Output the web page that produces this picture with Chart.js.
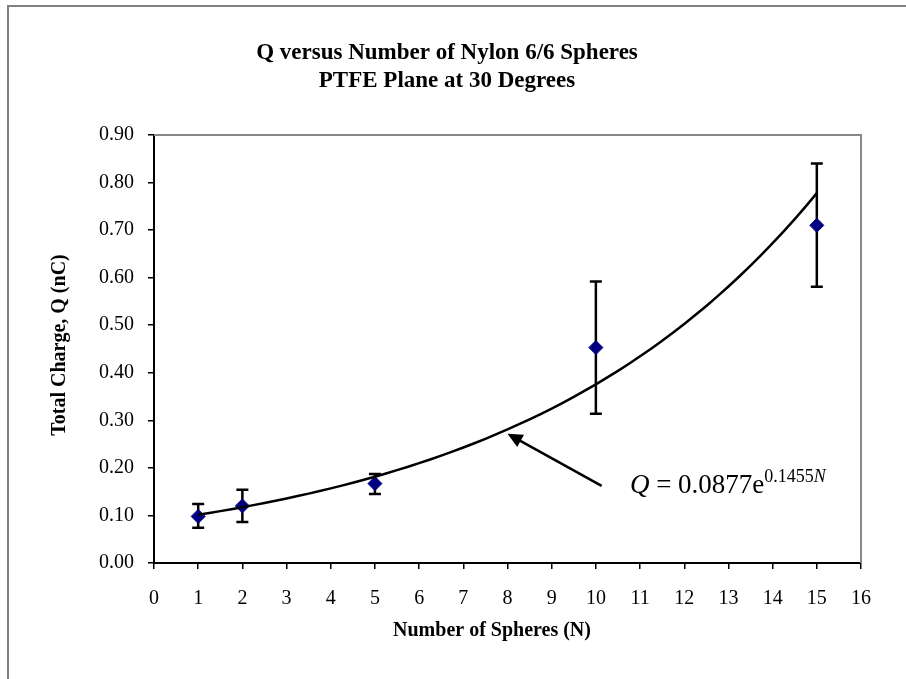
<!DOCTYPE html>
<html>
<head>
<meta charset="utf-8">
<script src="https://cdn.jsdelivr.net/npm/chart.js@4.4.0/dist/chart.umd.min.js"></script>
<style>
  html, body { margin: 0; padding: 0; background: #fff; }
</style>
</head>
<body>
<canvas id="myChart" width="906" height="679"></canvas>
<script>
const spheres = [1, 2, 5, 10, 15];
const charge = [0.098, 0.120, 0.167, 0.453, 0.710];
const errLow = [0.074, 0.086, 0.145, 0.314, 0.581];
const errHigh = [0.124, 0.154, 0.187, 0.592, 0.840];
// fitted trendline shown on the chart: Q = 0.0877 e^(0.1455 N)
const fitA = 0.0877;
const fitB = 0.1455;
const xTicks = [0, 1, 2, 3, 4, 5, 6, 7, 8, 9, 10, 11, 12, 13, 14, 15, 16];
const yTicks = [0, 0.1, 0.2, 0.3, 0.4, 0.5, 0.6, 0.7, 0.8, 0.9];
const titleLines = ['Q versus Number of Nylon 6/6 Spheres', 'PTFE Plane at 30 Degrees'];
const xTitle = 'Number of Spheres (N)';
const yTitle = 'Total Charge, Q (nC)';

const serif = '"Liberation Serif", "Times New Roman", serif';

const trend = [];
for (let n = spheres[0]; n <= spheres[spheres.length - 1] + 1e-9; n += 0.25) {
  trend.push({ x: n, y: fitA * Math.exp(fitB * n) });
}

const frame = {
  id: 'frame',
  beforeDraw(chart) {
    const c = chart.ctx;
    c.save();
    c.fillStyle = '#fff';
    c.fillRect(0, 0, chart.width, chart.height);
    c.strokeStyle = '#808080';
    c.lineWidth = 2;
    c.strokeRect(8, 6, 920, 700);
    // titles
    c.fillStyle = '#000';
    c.textAlign = 'center';
    c.textBaseline = 'middle';
    c.font = 'bold 23px ' + serif;
    c.fillText(titleLines[0], 447, 53);
    c.fillText(titleLines[1], 447, 81);
    c.font = 'bold 20px ' + serif;
    c.fillText(xTitle, 492, 631);
    c.save();
    c.translate(60, 345);
    c.rotate(-Math.PI / 2);
    c.fillText(yTitle, 0, 0);
    c.restore();
    c.restore();
  },
  beforeDatasetsDraw(chart) {
    const c = chart.ctx;
    const a = chart.chartArea;
    const xs = chart.scales.x, ys = chart.scales.y;
    c.save();
    // grey plot frame top & right
    c.strokeStyle = '#888';
    c.lineWidth = 2;
    c.beginPath();
    c.moveTo(a.left, a.top);
    c.lineTo(a.right, a.top);
    c.lineTo(a.right, a.bottom);
    c.stroke();
    // error bars
    c.strokeStyle = '#000';
    c.lineWidth = 2.5;
    spheres.forEach((n, i) => {
      const px = xs.getPixelForValue(n);
      const lo = ys.getPixelForValue(errLow[i]);
      const hi = ys.getPixelForValue(errHigh[i]);
      c.beginPath();
      c.moveTo(px, lo); c.lineTo(px, hi);
      c.moveTo(px - 6, lo); c.lineTo(px + 6, lo);
      c.moveTo(px - 6, hi); c.lineTo(px + 6, hi);
      c.stroke();
    });
    c.restore();
  },
  afterDatasetsDraw(chart) {
    const c = chart.ctx;
    const xs = chart.scales.x, ys = chart.scales.y;
    c.save();
    // arrow pointing at the trendline
    const x0 = xs.getPixelForValue(10.13), y0 = ys.getPixelForValue(0.162);
    const x1 = xs.getPixelForValue(8.0), y1 = ys.getPixelForValue(0.272);
    const ang = Math.atan2(y1 - y0, x1 - x0);
    c.strokeStyle = '#000';
    c.fillStyle = '#000';
    c.lineWidth = 2.5;
    c.beginPath();
    c.moveTo(x0, y0);
    c.lineTo(x1 - 8 * Math.cos(ang), y1 - 8 * Math.sin(ang));
    c.stroke();
    c.beginPath();
    c.moveTo(x1, y1);
    c.lineTo(x1 - 15 * Math.cos(ang) + 7 * Math.sin(ang), y1 - 15 * Math.sin(ang) - 7 * Math.cos(ang));
    c.lineTo(x1 - 15 * Math.cos(ang) - 7 * Math.sin(ang), y1 - 15 * Math.sin(ang) + 7 * Math.cos(ang));
    c.closePath();
    c.fill();
    // equation
    let tx = xs.getPixelForValue(10.77);
    const ty = ys.getPixelForValue(0.147);
    c.textBaseline = 'alphabetic';
    c.textAlign = 'left';
    const parts = [
      { t: 'Q', f: 'italic 27px ' + serif, dy: 0 },
      { t: ' = 0.0877e', f: '27px ' + serif, dy: 0 },
      { t: '0.1455', f: '18px ' + serif, dy: -11 },
      { t: 'N', f: 'italic 18px ' + serif, dy: -11 }
    ];
    parts.forEach(p => {
      c.font = p.f;
      c.fillText(p.t, tx, ty + p.dy);
      tx += c.measureText(p.t).width;
    });
    c.restore();
  }
};

new Chart(document.getElementById('myChart'), {
  type: 'scatter',
  data: {
    datasets: [
      {
        label: 'Trend',
        data: trend,
        showLine: true,
        borderColor: '#000',
        borderWidth: 2.5,
        pointRadius: 0,
        tension: 0
      },
      {
        label: 'Q',
        data: spheres.map((n, i) => ({ x: n, y: charge[i] })),
        pointStyle: 'rectRot',
        pointRadius: 7,
        backgroundColor: '#000080',
        borderColor: '#000080',
        borderWidth: 1
      }
    ]
  },
  options: {
    responsive: false,
    animation: false,
    layout: { padding: { left: 0, right: 45, top: 135, bottom: 0 } },
    plugins: {
      legend: { display: false },
      tooltip: { enabled: false },
      title: { display: false }
    },
    scales: {
      x: {
        type: 'linear',
        min: 0,
        max: 16,
        afterBuildTicks: s => { s.ticks = xTicks.map(v => ({ value: v })); },
        afterFit: s => { s.height = 116; },
        ticks: { color: '#000', font: { family: serif, size: 20 }, padding: 18, maxRotation: 0 },
        grid: { drawOnChartArea: false, color: '#000', tickLength: 6, lineWidth: 1.5 },
        border: { color: '#000', width: 2 }
      },
      y: {
        min: 0,
        max: 0.9,
        afterBuildTicks: s => { s.ticks = yTicks.map(v => ({ value: v })); },
        afterFit: s => { s.width = 154; },
        ticks: { color: '#000', font: { family: serif, size: 20 }, padding: 14, callback: v => v.toFixed(2) },
        grid: { drawOnChartArea: false, color: '#000', tickLength: 6, lineWidth: 1.5 },
        border: { color: '#000', width: 2 }
      }
    }
  },
  plugins: [frame]
});
</script>
</body>
</html>
